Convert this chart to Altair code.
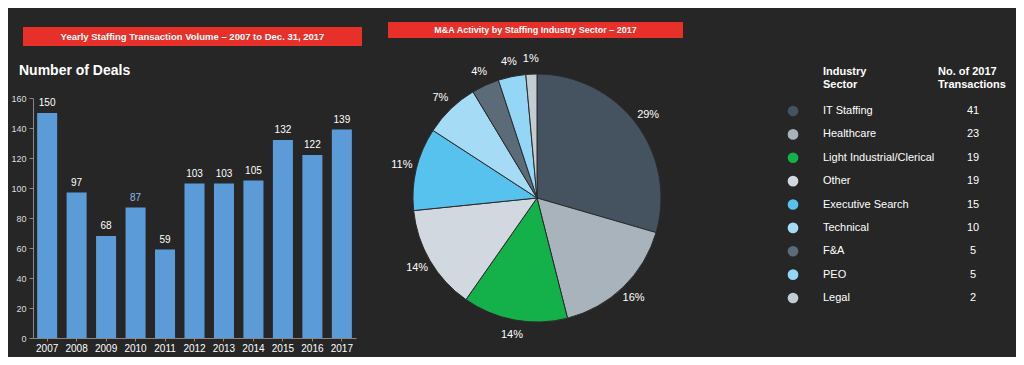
import altair as alt
import pandas as pd

FONT = "Liberation Sans"

# ---- data ----
years = ["2007", "2008", "2009", "2010", "2011", "2012", "2013", "2014", "2015", "2016", "2017"]
deals = [150, 97, 68, 87, 59, 103, 103, 105, 132, 122, 139]
deal_label_colors = ["#ffffff", "#ffffff", "#ffffff", "#8fb9e8", "#ffffff", "#ffffff",
                     "#ffffff", "#ffffff", "#ffffff", "#ffffff", "#ffffff"]

sectors = ["IT Staffing", "Healthcare", "Light Industrial/Clerical", "Other",
           "Executive Search", "Technical", "F&A", "PEO", "Legal"]
counts = [41, 23, 19, 19, 15, 10, 5, 5, 2]
pct_labels = ["29%", "16%", "14%", "14%", "11%", "7%", "4%", "4%", "1%"]
sector_colors = ["#45525f", "#a8b3bc", "#14b14b", "#d1d8e0", "#58c2ee",
                 "#a5dbf5", "#5c6b78", "#93d6f6", "#c3cbd3"]
y_ticks = [0, 20, 40, 60, 80, 100, 120, 140, 160]

title_left = "Yearly Staffing Transaction Volume \u2013 2007 to Dec. 31, 2017"
title_right = "M&A Activity by Staffing Industry Sector \u2013 2017"
header_sector = "Industry\nSector"
header_count = "No. of 2017\nTransactions"

RED = "#e8302a"
BG = "#262626"


def band(text, width, height, x0, x1, y0, y1, fontsize):
    df = pd.DataFrame({"t": [text]})
    rect = alt.Chart(df).mark_rect(color=RED).encode(
        x=alt.value(x0), x2=alt.value(x1), y=alt.value(y0), y2=alt.value(y1))
    txt = alt.Chart(df).mark_text(color="white", font=FONT, fontWeight="bold",
                                  fontSize=fontsize).encode(
        x=alt.value((x0 + x1) / 2), y=alt.value((y0 + y1) / 2), text="t:N")
    return alt.layer(rect, txt).properties(width=width, height=height)


# ---- bar chart ----
bar_df = pd.DataFrame({"year": years, "deals": deals, "lc": deal_label_colors})
xenc = alt.X("year:N", title=None,
             scale=alt.Scale(paddingInner=0.32, paddingOuter=0.14),
             axis=alt.Axis(labelAngle=0, labelColor="white", labelFontSize=10,
                           labelFont=FONT, tickColor="#888", domainColor="#888",
                           tickSize=3, labelPadding=2))
yenc = alt.Y("deals:Q", title=None, scale=alt.Scale(domain=[0, 160]),
             axis=alt.Axis(values=y_ticks, grid=False, labelOverlap=False,
                           labelColor="#dddddd", labelFontSize=9, labelFont=FONT,
                           domainColor="#888", tickColor="#888", tickSize=4,
                           labelPadding=3))
bars = alt.Chart(bar_df).mark_bar(color="#5b9bd8").encode(x=xenc, y=yenc)
bar_labels = alt.Chart(bar_df).mark_text(dy=-10, fontSize=10, font=FONT).encode(
    x=xenc, y=yenc, text="deals:Q",
    color=alt.Color("lc:N", scale=None))
bar_chart = alt.layer(bars, bar_labels).properties(
    width=323, height=240,
    title=alt.TitleParams("Number of Deals", anchor="start", color="white",
                          fontSize=14, font=FONT, fontWeight="bold", dx=8,
                          offset=16))

left = alt.vconcat(band(title_left, 329, 24, -10, 329, 5, 24, 9.5), bar_chart,
                   spacing=18)

# ---- pie chart ----
pie_df = pd.DataFrame({"sector": sectors, "count": counts, "pct": pct_labels,
                       "ord": list(range(len(sectors)))})
cscale = alt.Scale(domain=sectors, range=sector_colors)
arcs = alt.Chart(pie_df).mark_arc(outerRadius=124, stroke="#2b2b2b",
                                  strokeWidth=1).encode(
    theta=alt.Theta("count:Q", stack=True),
    color=alt.Color("sector:N", scale=cscale, legend=None),
    order=alt.Order("ord:Q"))
pie_text = alt.Chart(pie_df).mark_text(radius=139, color="white", fontSize=11,
                                       font=FONT).encode(
    theta=alt.Theta("count:Q", stack=True),
    order=alt.Order("ord:Q"),
    text="pct:N")
pie = alt.layer(arcs, pie_text).properties(width=300, height=300)

right = alt.vconcat(band(title_right, 300, 16, 1, 296, 0, 16, 9), pie, spacing=10)

# ---- legend table ----
tbl_df = pd.DataFrame({"sector": sectors, "count": counts})
row = alt.Y("sector:N", sort=sectors, axis=None,
            scale=alt.Scale(type="point", range=[89, 276], padding=0))
circles = alt.Chart(tbl_df).mark_circle(size=115, opacity=1).encode(
    x=alt.value(12), y=row,
    color=alt.Color("sector:N", scale=cscale, legend=None))
names = alt.Chart(tbl_df).mark_text(align="left", color="white", fontSize=11,
                                    font=FONT).encode(
    x=alt.value(42), y=row, text="sector:N")
nums = alt.Chart(tbl_df).mark_text(align="center", color="white", fontSize=11,
                                   font=FONT).encode(
    x=alt.value(192), y=row, text="count:Q")
hdr_df = pd.DataFrame({"h1": [header_sector], "h2": [header_count]})
h1 = alt.Chart(hdr_df).mark_text(align="left", baseline="top", color="white",
                                 fontSize=11, fontWeight="bold", font=FONT,
                                 lineBreak="\n", lineHeight=13).encode(
    x=alt.value(42), y=alt.value(44), text="h1:N")
h2 = alt.Chart(hdr_df).mark_text(align="left", baseline="top", color="white",
                                 fontSize=11, fontWeight="bold", font=FONT,
                                 lineBreak="\n", lineHeight=13).encode(
    x=alt.value(157), y=alt.value(44), text="h2:N")
table = alt.layer(circles, names, nums, h1, h2).properties(width=230, height=300)

chart = alt.hconcat(left, alt.hconcat(right, table, spacing=94), spacing=25).properties(
    background=BG,
    padding={"left": 2, "top": 14, "right": 5, "bottom": 4},
).configure_view(stroke=None).configure_concat(spacing=0)

chart.save("out.html", embed_options={"renderer": "svg", "actions": False})
